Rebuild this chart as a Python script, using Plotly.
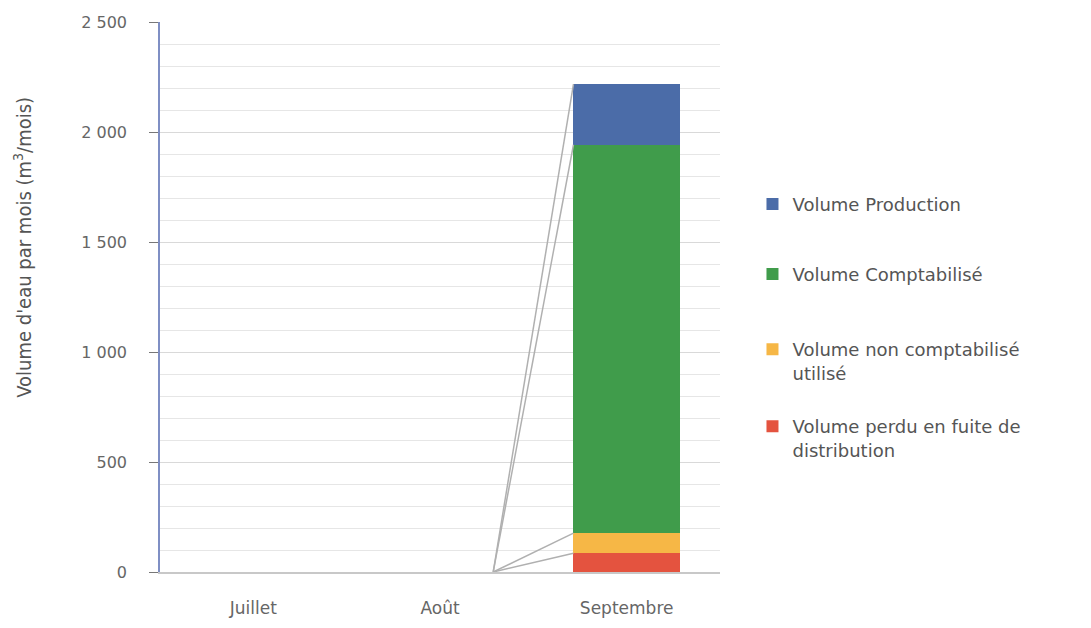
import plotly.graph_objects as go

categories = ["Juillet", "Août", "Septembre"]
perdu = [0, 0, 85]
non_compt = [0, 0, 92]
comptabilise = [0, 0, 1765]
production = [0, 0, 276]

series = [
    ("Volume perdu en fuite de<br>distribution", perdu, "#e4533f"),
    ("Volume non comptabilisé<br>utilisé", non_compt, "#f6b746"),
    ("Volume Comptabilisé", comptabilise, "#409c4b"),
    ("Volume Production", production, "#4b6ca8"),
]
legend_names = ["legend4", "legend3", "legend2", "legend"]
legend_y = [0.298, 0.438, 0.575, 0.702]

xpos = list(range(len(categories)))
bar_w = 0.57

fig = go.Figure()
cum = [0] * len(categories)
tops = []
for i, (name, vals, col) in enumerate(series):
    fig.add_trace(go.Bar(x=xpos, y=vals, name=name, marker_color=col,
                         marker_line_width=0, width=bar_w,
                         legend=legend_names[i]))
    cum = [c + v for c, v in zip(cum, vals)]
    tops.append(list(cum))

# Excel-style series lines between adjacent bars (visible one: Août -> Septembre)
for t in tops:
    for j in range(1, len(categories) - 1):
        fig.add_trace(go.Scatter(x=[xpos[j] + bar_w / 2, xpos[j + 1] - bar_w / 2],
                                 y=[t[j], t[j + 1]], mode="lines",
                                 line=dict(color="#b0b0b0", width=1.5),
                                 showlegend=False, hoverinfo="skip"))

legend_style = dict(x=1.058, xanchor="left", yanchor="top", valign="top",
                    font=dict(size=18, color="#555555", family="DejaVu Sans"),
                    bgcolor="rgba(0,0,0,0)")
legends = {}
for ln, ly in zip(legend_names, legend_y):
    legends[ln] = dict(legend_style, y=ly)

fig.update_layout(
    width=1083, height=620,
    barmode="stack",
    plot_bgcolor="white", paper_bgcolor="white",
    margin=dict(l=152, r=371, t=14, b=56, autoexpand=False),
    separators=", ",
    font=dict(family="DejaVu Sans", color="#5a5a5a"),
    **legends,
    xaxis=dict(range=[-0.5, 2.5], tickvals=xpos, ticktext=categories,
               showgrid=False, zeroline=False, showline=True, automargin=False,
               linecolor="#c8c8c8", linewidth=1.5, ticks="",
               tickfont=dict(size=17, color="#666666"),
               ticklabelstandoff=20),
    yaxis=dict(range=[0, 2500], dtick=500, tickformat=",d", automargin=False,
               showgrid=True, gridcolor="#d9d9d9", gridwidth=1,
               minor=dict(dtick=100, showgrid=True, gridcolor="#e6e6e6", gridwidth=1),
               zeroline=False, showline=True, linecolor="#7f8fc4", linewidth=1.5,
               ticks="outside", ticklen=9, tickcolor="#777777",
               ticklabelstandoff=19,
               tickfont=dict(size=16, color="#666666")),
    annotations=[dict(text="Volume d'eau par mois (m<sup>3</sup>/mois)",
                      textangle=-90, xref="paper", yref="paper",
                      x=-0.245, y=0.591, xanchor="center", yanchor="middle",
                      showarrow=False,
                      font=dict(family="DejaVu Sans Condensed, Roboto, sans-serif",
                                size=20, color="#555555"))],
)

fig.write_html("out.html")
